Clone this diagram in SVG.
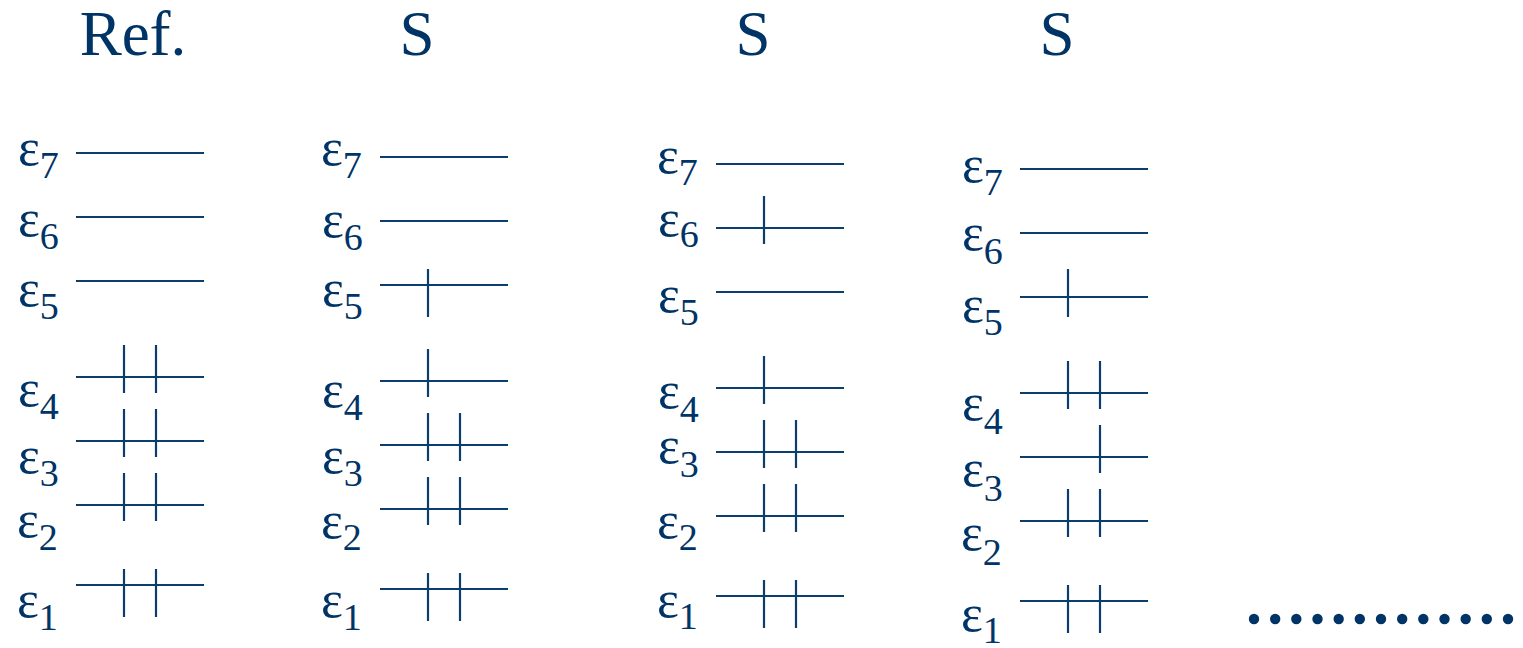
<svg xmlns="http://www.w3.org/2000/svg" width="1523" height="648" viewBox="0 0 1523 648">
<style>
text{font-family:'Liberation Serif','Times New Roman','DejaVu Serif',serif;fill:#003366}
.h{font-size:63px;text-anchor:middle}
.e{font-size:52px}
.s{font-size:38px}
.l{stroke:#0b3e6f;stroke-width:2.2;fill:none}
.d{fill:#003366}
</style>
<defs>
<path id="lv" d="M0 0H128"/>
<path id="tk" d="M0 -32V16"/>
<path id="tkd" d="M0 -16V32"/>
<path id="tkm" d="M0 -28V20"/>
</defs>
<g id="titles">
<text class="h" x="133" y="55">Ref.</text>
<text class="h" x="417" y="55">S</text>
<text class="h" x="753" y="55">S</text>
<text class="h" x="1057" y="55">S</text>
</g>
<g id="col-ref">
<g id="ref-e7"><text class="e" x="18" y="165">ε<tspan class="s" dy="13">7</tspan></text><use href="#lv" class="l" x="76" y="153"/></g>
<g id="ref-e6"><text class="e" x="18" y="236">ε<tspan class="s" dy="13">6</tspan></text><use href="#lv" class="l" x="76" y="217"/></g>
<g id="ref-e5"><text class="e" x="18" y="306">ε<tspan class="s" dy="13">5</tspan></text><use href="#lv" class="l" x="76" y="281"/></g>
<g id="ref-e4"><text class="e" x="18" y="406">ε<tspan class="s" dy="13">4</tspan></text><use href="#lv" class="l" x="76" y="377"/><use href="#tk" class="l" x="124" y="377"/><use href="#tk" class="l" x="156" y="377"/></g>
<g id="ref-e3"><text class="e" x="18" y="473">ε<tspan class="s" dy="13">3</tspan></text><use href="#lv" class="l" x="76" y="441"/><use href="#tk" class="l" x="124" y="441"/><use href="#tk" class="l" x="156" y="441"/></g>
<g id="ref-e2"><text class="e" x="17" y="537">ε<tspan class="s" dy="13">2</tspan></text><use href="#lv" class="l" x="76" y="505"/><use href="#tk" class="l" x="124" y="505"/><use href="#tk" class="l" x="156" y="505"/></g>
<g id="ref-e1"><text class="e" x="17" y="617">ε<tspan class="s" dy="13">1</tspan></text><use href="#lv" class="l" x="76" y="585"/><use href="#tkd" class="l" x="124" y="585"/><use href="#tkd" class="l" x="156" y="585"/></g>
</g>
<g id="col-s1">
<g id="s1-e7"><text class="e" x="321" y="165">ε<tspan class="s" dy="13">7</tspan></text><use href="#lv" class="l" x="380" y="157"/></g>
<g id="s1-e6"><text class="e" x="322" y="237">ε<tspan class="s" dy="13">6</tspan></text><use href="#lv" class="l" x="380" y="221"/></g>
<g id="s1-e5"><text class="e" x="322" y="306">ε<tspan class="s" dy="13">5</tspan></text><use href="#lv" class="l" x="380" y="285"/><use href="#tkd" class="l" x="428" y="285"/></g>
<g id="s1-e4"><text class="e" x="322" y="407">ε<tspan class="s" dy="13">4</tspan></text><use href="#lv" class="l" x="380" y="381"/><use href="#tk" class="l" x="428" y="381"/></g>
<g id="s1-e3"><text class="e" x="322" y="473">ε<tspan class="s" dy="13">3</tspan></text><use href="#lv" class="l" x="380" y="445"/><use href="#tk" class="l" x="428" y="445"/><use href="#tk" class="l" x="460" y="445"/></g>
<g id="s1-e2"><text class="e" x="321" y="538">ε<tspan class="s" dy="12">2</tspan></text><use href="#lv" class="l" x="380" y="509"/><use href="#tk" class="l" x="428" y="509"/><use href="#tk" class="l" x="460" y="509"/></g>
<g id="s1-e1"><text class="e" x="321" y="617">ε<tspan class="s" dy="13">1</tspan></text><use href="#lv" class="l" x="380" y="589"/><use href="#tkd" class="l" x="428" y="589"/><use href="#tkd" class="l" x="460" y="589"/></g>
</g>
<g id="col-s2">
<g id="s2-e7"><text class="e" x="657" y="173">ε<tspan class="s" dy="12">7</tspan></text><use href="#lv" class="l" x="716" y="164"/></g>
<g id="s2-e6"><text class="e" x="658" y="236">ε<tspan class="s" dy="11">6</tspan></text><use href="#lv" class="l" x="716" y="228"/><use href="#tk" class="l" x="764" y="228"/></g>
<g id="s2-e5"><text class="e" x="658" y="312">ε<tspan class="s" dy="13">5</tspan></text><use href="#lv" class="l" x="716" y="292"/></g>
<g id="s2-e4"><text class="e" x="658" y="408">ε<tspan class="s" dy="14">4</tspan></text><use href="#lv" class="l" x="716" y="388"/><use href="#tk" class="l" x="764" y="388"/></g>
<g id="s2-e3"><text class="e" x="658" y="463">ε<tspan class="s" dy="14">3</tspan></text><use href="#lv" class="l" x="716" y="452"/><use href="#tk" class="l" x="764" y="452"/><use href="#tk" class="l" x="796" y="452"/></g>
<g id="s2-e2"><text class="e" x="657" y="538">ε<tspan class="s" dy="12">2</tspan></text><use href="#lv" class="l" x="716" y="516"/><use href="#tk" class="l" x="764" y="516"/><use href="#tk" class="l" x="796" y="516"/></g>
<g id="s2-e1"><text class="e" x="657" y="617">ε<tspan class="s" dy="12">1</tspan></text><use href="#lv" class="l" x="716" y="596"/><use href="#tkd" class="l" x="764" y="596"/><use href="#tkd" class="l" x="796" y="596"/></g>
</g>
<g id="col-s3">
<g id="s3-e7"><text class="e" x="962" y="182">ε<tspan class="s" dy="13">7</tspan></text><use href="#lv" class="l" x="1020" y="169"/></g>
<g id="s3-e6"><text class="e" x="962" y="250">ε<tspan class="s" dy="14">6</tspan></text><use href="#lv" class="l" x="1020" y="233"/></g>
<g id="s3-e5"><text class="e" x="962" y="322">ε<tspan class="s" dy="13">5</tspan></text><use href="#lv" class="l" x="1020" y="297"/><use href="#tkm" class="l" x="1068" y="297"/></g>
<g id="s3-e4"><text class="e" x="962" y="420">ε<tspan class="s" dy="14">4</tspan></text><use href="#lv" class="l" x="1020" y="393"/><use href="#tk" class="l" x="1068" y="393"/><use href="#tk" class="l" x="1100" y="393"/></g>
<g id="s3-e3"><text class="e" x="962" y="486">ε<tspan class="s" dy="15">3</tspan></text><use href="#lv" class="l" x="1020" y="457"/><use href="#tk" class="l" x="1100" y="457"/></g>
<g id="s3-e2"><text class="e" x="961" y="550">ε<tspan class="s" dy="15">2</tspan></text><use href="#lv" class="l" x="1020" y="521"/><use href="#tk" class="l" x="1068" y="521"/><use href="#tk" class="l" x="1100" y="521"/></g>
<g id="s3-e1"><text class="e" x="961" y="631">ε<tspan class="s" dy="12">1</tspan></text><use href="#lv" class="l" x="1020" y="601"/><use href="#tkd" class="l" x="1068" y="601"/><use href="#tkd" class="l" x="1100" y="601"/></g>
</g>
<g id="connectors"></g>
<g id="ellipsis" class="d">
<circle cx="1254" cy="619" r="5.2"/><circle cx="1275.2" cy="619" r="5.2"/><circle cx="1296.3" cy="619" r="5.2"/><circle cx="1317.5" cy="619" r="5.2"/><circle cx="1338.7" cy="619" r="5.2"/><circle cx="1359.8" cy="619" r="5.2"/><circle cx="1381" cy="619" r="5.2"/><circle cx="1402.2" cy="619" r="5.2"/><circle cx="1423.3" cy="619" r="5.2"/><circle cx="1444.5" cy="619" r="5.2"/><circle cx="1465.7" cy="619" r="5.2"/><circle cx="1486.8" cy="619" r="5.2"/><circle cx="1508" cy="619" r="5.2"/>
</g>
</svg>
